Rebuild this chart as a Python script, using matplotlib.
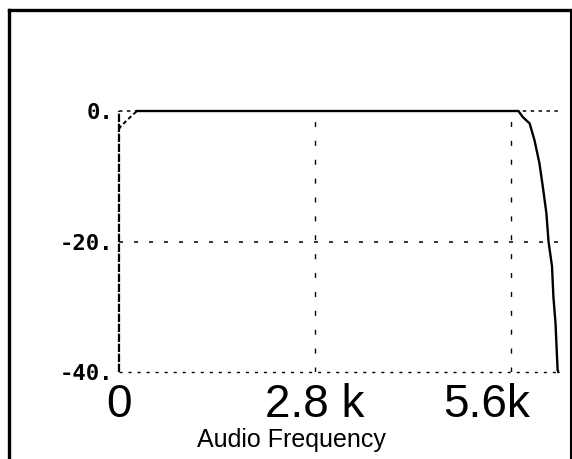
import matplotlib
matplotlib.use("Agg")
from matplotlib import pyplot as plt
from matplotlib.lines import Line2D
import matplotlib.transforms as mtransforms

plt.rcParams['lines.scale_dashes'] = False

# frequency response, kHz vs dB
f_low = [0.0, 0.014, 0.114, 0.257]
db_low = [-2.8, -2.5, -1.4, 0.0]

f_main = [0.257, 5.71, 5.77, 5.87, 5.94, 6.01, 6.06, 6.11, 6.14, 6.19, 6.21, 6.24, 6.27, 6.28]
db_main = [0.0, 0.0, -0.9, -1.9, -4.5, -8.0, -11.7, -15.7, -20.0, -23.8, -28.5, -32.5, -39.7, -40.0]

xticks = [0, 2.8, 5.6]
xlabels = ['0', '2.8 k', '5.6k']
yticks = [0, -20, -40]
ylabels = ['0.', '-20.', '-40.']

fig = plt.figure(figsize=(5.72, 4.59), dpi=100)
ax = fig.add_axes([119/572, 1 - 372/459, 440/572, 261/459])

# grid lines
ax.axhline(0, color='black', lw=1.1, linestyle=(0, (2.5, 3.2)), zorder=1, clip_on=False)
ax.axhline(-20, color='black', lw=1.1, linestyle=(0, (2.9, 7.9)), zorder=1)
ax.axhline(-40, color='black', lw=1.0, linestyle=(0, (2.2, 4.3)), zorder=1, clip_on=False)
for x in xticks[1:]:
    ax.axvline(x, color='black', lw=1.0, linestyle=(0, (3.6, 10)), zorder=1)
ax.axvline(0, color='black', lw=1.6, linestyle=(0, (6, 1.2)), zorder=2, clip_on=False)

ax.plot(f_low, db_low, color='black', lw=1.4, linestyle=(0, (3, 2)), zorder=3, clip_on=False)
ax.plot(f_main, db_main, color='black', lw=1.7, solid_joinstyle='miter', zorder=3, clip_on=False)

ax.set_xlim(0, 6.29)
ax.set_ylim(-40, 0)
for s in ax.spines.values():
    s.set_visible(False)

ax.set_xticks(xticks)
ax.set_xticklabels(xlabels, fontsize=33, fontfamily='Liberation Sans')
ax.set_yticks(yticks)
ax.set_yticklabels(ylabels, fontsize=16, fontfamily='DejaVu Sans Mono', fontweight='bold')
ax.tick_params(axis='x', length=0, pad=8)
ax.tick_params(axis='y', length=0, pad=4)

lbls = ax.get_xticklabels()
lbls[-1].set_transform(lbls[-1].get_transform() +
                       mtransforms.ScaledTranslation(-0.24, 0, fig.dpi_scale_trans))

fig.text(291/572, 1 - 440/459, 'Audio Frequency', ha='center', va='center',
         fontsize=18, fontfamily='Liberation Sans')

# outer frame
fig.add_artist(Line2D([9/572, 9/572], [0, 1 - 10/459], color='black', lw=2.4))
fig.add_artist(Line2D([9/572, 1], [1 - 10/459, 1 - 10/459], color='black', lw=2.4))
fig.add_artist(Line2D([571/572, 571/572], [0, 1 - 10/459], color='black', lw=1.5))

fig.savefig('out.png', dpi=100)
